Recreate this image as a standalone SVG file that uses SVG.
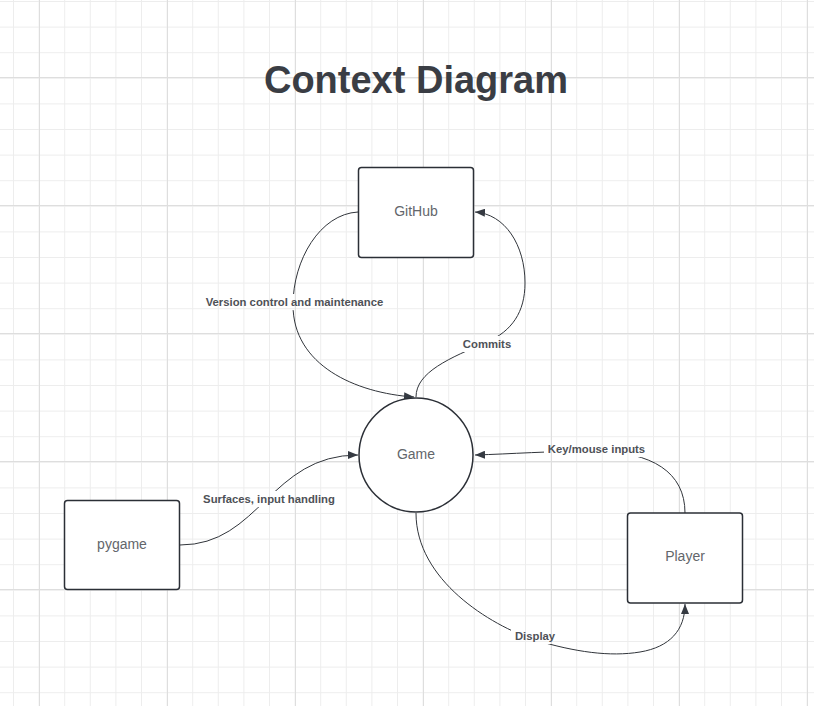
<svg xmlns="http://www.w3.org/2000/svg" width="814" height="706" viewBox="0 0 814 706">
  <defs>
    <style>
      .node { fill: #ffffff; stroke: #2b2f36; stroke-width: 1.5; }
      .ntext { font-family: "Liberation Sans", Arial, sans-serif; font-size: 14px; fill: #63666b; text-anchor: middle; }
      .conn { fill: none; stroke: #30343a; stroke-width: 1; }
      .lbl { font-family: "Liberation Sans", Arial, sans-serif; font-size: 11.3px; font-weight: bold; fill: #4e5157; text-anchor: middle; }
      .title { font-family: "Liberation Sans", Arial, sans-serif; font-size: 38px; font-weight: bold; fill: #3a3d44; text-anchor: middle; }
    </style>
    <pattern id="gridMinor" x="13" y="1" width="25.6" height="25.6" patternUnits="userSpaceOnUse">
      <rect x="0" y="0" width="1" height="25.6" fill="#ededed"/>
      <rect x="0" y="0" width="25.6" height="1" fill="#ededed"/>
    </pattern>
    <pattern id="gridMajor" x="39" y="77" width="128" height="128" patternUnits="userSpaceOnUse">
      <rect x="0" y="0" width="1" height="128" fill="#dedede"/>
      <rect x="0" y="0" width="128" height="1" fill="#dedede"/>
    </pattern>
    <marker id="arrow" viewBox="0 0 10 8" refX="10" refY="4" markerWidth="10" markerHeight="8" markerUnits="userSpaceOnUse" orient="auto">
      <path d="M0,0 L10,4 L0,8 Z" fill="#353a42"/>
    </marker>
    <mask id="labelGaps" maskUnits="userSpaceOnUse" x="0" y="0" width="814" height="706">
      <rect x="0" y="0" width="814" height="706" fill="#ffffff"/>
      <rect x="203" y="294" width="184" height="16" fill="#000000"/>
      <rect x="459" y="336" width="56" height="16" fill="#000000"/>
      <rect x="199" y="491" width="140" height="16" fill="#000000"/>
      <rect x="544" y="441" width="105" height="16" fill="#000000"/>
      <rect x="511" y="628" width="48" height="16" fill="#000000"/>
    </mask>
  </defs>

  <rect x="0" y="0" width="814" height="706" fill="#ffffff"/>
  <rect x="0" y="0" width="814" height="706" fill="url(#gridMinor)"/>
  <rect x="0" y="0" width="814" height="706" fill="url(#gridMajor)"/>

  <text class="title" x="416" y="92.5">Context Diagram</text>

  <g id="connectors">
    <g mask="url(#labelGaps)">
      <path id="c-version" class="conn" d="M358,212 C320,214 293,260 293,305 C293,365 355,393 414,397" marker-end="url(#arrow)"/>
      <path id="c-commits" class="conn" d="M416,397 C416,372 450,358 487,342 C512,331 525,312 525,283 C525,245 505,214 475,212" marker-end="url(#arrow)"/>
      <path id="c-surfaces" class="conn" d="M180,545 C260,545 270,455 358,455" marker-end="url(#arrow)"/>
      <path id="c-keymouse" class="conn" d="M685,513 C685,472 652,452 596,451 C550,451 510,454 475,455" marker-end="url(#arrow)"/>
      <path id="c-display" class="conn" d="M416,513 C416,580 490,625 535,640 C575,652 610,657 640,652 C670,647 685,630 685,604" marker-end="url(#arrow)"/>
    </g>
    <text class="lbl" x="294.5" y="306">Version control and maintenance</text>
    <text class="lbl" x="487" y="347.5">Commits</text>
    <text class="lbl" x="269" y="502.5">Surfaces, input handling</text>
    <text class="lbl" x="596.5" y="452.5">Key/mouse inputs</text>
    <text class="lbl" x="535" y="640">Display</text>
  </g>

  <g id="node-github">
    <rect class="node" x="358.5" y="167.5" width="115" height="90" rx="3"/>
    <text class="ntext" x="416" y="216">GitHub</text>
  </g>
  <g id="node-game">
    <circle class="node" cx="416" cy="455" r="57"/>
    <text class="ntext" x="416" y="458.5">Game</text>
  </g>
  <g id="node-pygame">
    <rect class="node" x="64.5" y="500.5" width="115" height="89" rx="3"/>
    <text class="ntext" x="122" y="548.5">pygame</text>
  </g>
  <g id="node-player">
    <rect class="node" x="627.5" y="513" width="115" height="90" rx="3"/>
    <text class="ntext" x="685" y="561">Player</text>
  </g>
</svg>
